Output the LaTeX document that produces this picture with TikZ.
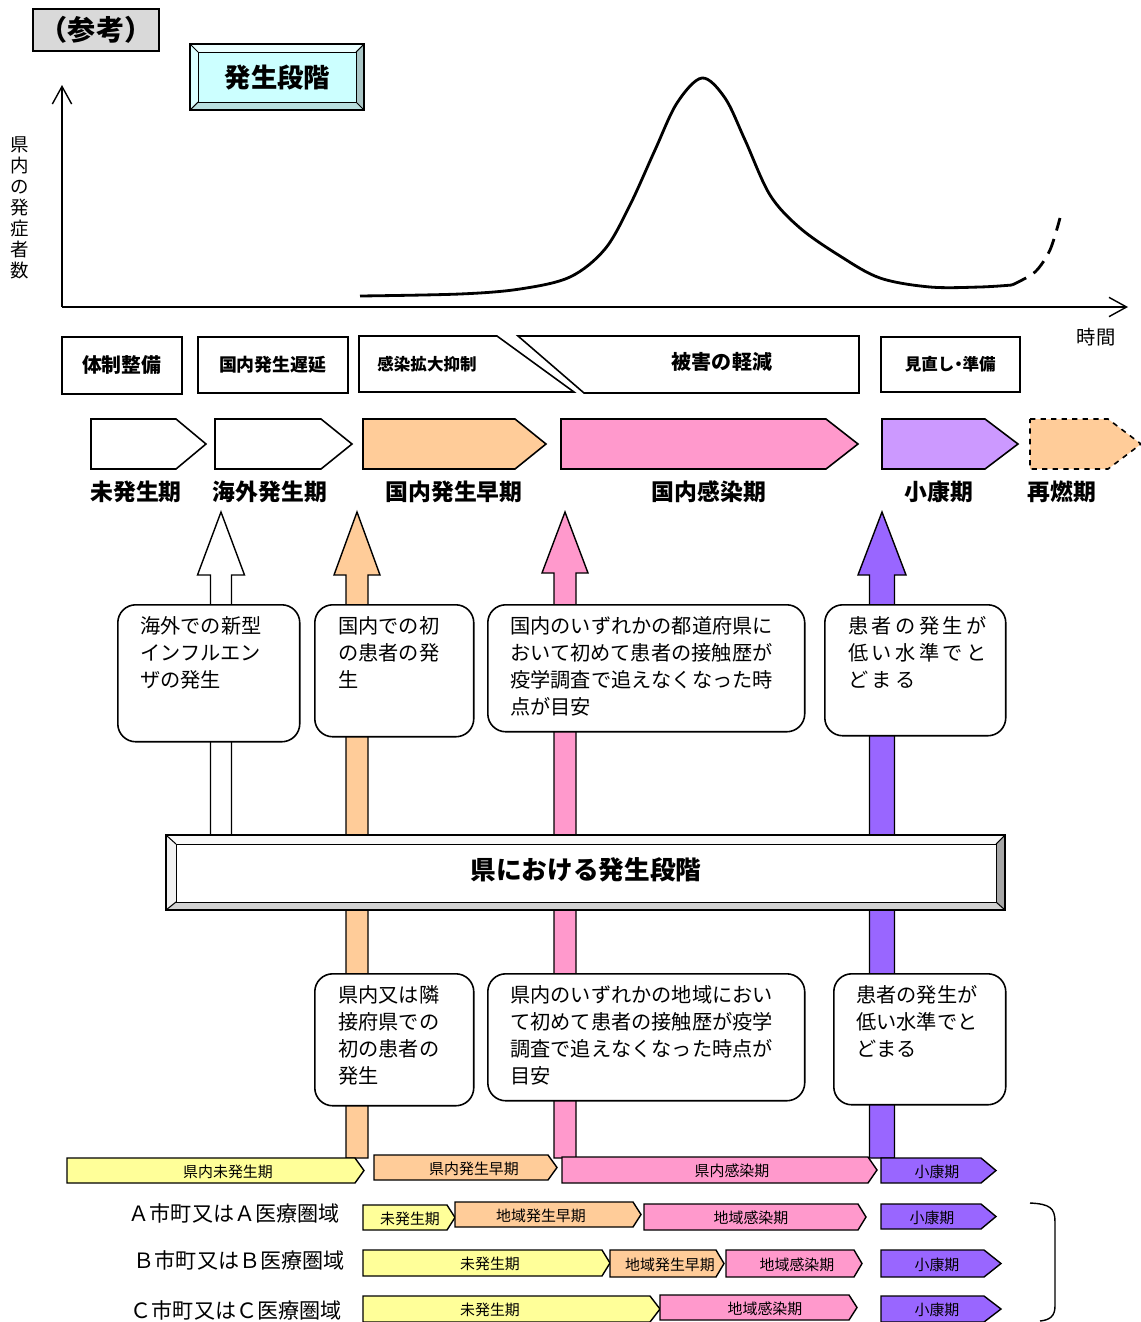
\documentclass[tikz,border=0pt]{standalone}
\usepackage{fontspec}
\setmainfont{Noto Sans CJK JP}
\usetikzlibrary{arrows.meta,positioning}
\definecolor{orng}{HTML}{FFCC99}
\definecolor{pnk}{HTML}{FF99CC}
\definecolor{lilac}{HTML}{CC99FF}
\definecolor{purp}{HTML}{9966FF}
\definecolor{ylw}{HTML}{FFFF99}
\definecolor{cyn}{HTML}{CCFFFF}
% pentagon bar: style, x1, x2, ytop, ybot, tip, name, text x, text
\newcommand{\pent}[9]{%
  \draw[#1] (#2,#4) -- ({#3-#6},#4) -- (#3,{(#4+#5)/2}) -- ({#3-#6},#5) -- (#2,#5) -- cycle;
  \node[bartext] (#7) at (#8,{(#4+#5)/2+1}) {#9};}
% block arrow: x, tip y, head base y, bottom y, shaft half width, head half width, colour
\newcommand{\uparr}[7]{%
  \draw[fill=#7, line width=0.8pt] (#1-#5,#4) -- (#1-#5,#3) -- (#1-#6,#3) -- (#1,#2)
    -- (#1+#6,#3) -- (#1+#5,#3) -- (#1+#5,#4) -- cycle;}
\begin{document}
\begin{tikzpicture}[x=0.02cm, y=-0.02cm,
  cbox/.style={draw, line width=0.9pt, rounded corners=0.36cm, fill=white, anchor=north west, inner sep=0pt},
  ctext/.style={inner sep=0pt, anchor=north west, align=left, font=\fontsize{11.5}{15.3}\selectfont},
  phase/.style={draw, line width=0.9pt, fill=white, anchor=north west, inner sep=0pt},
  lbl/.style={font=\bfseries\fontsize{13}{15}\selectfont},
  bartext/.style={font=\fontsize{8.5}{10}\selectfont, inner sep=0pt},
  bar/.style={draw, line width=0.8pt},
  rowlbl/.style={anchor=east, inner sep=0pt, font=\fontsize{12}{14}\selectfont}]
\useasboundingbox (0,0) rectangle (1141,1322);

% title boxes
\node[draw, line width=1.2pt, fill=gray!30, minimum width=2.52cm, minimum height=0.84cm,
  anchor=north west, font=\bfseries\fontsize{16}{18}\selectfont] (ref) at (32,8) {（参考）};
\fill[cyn!40] (190,44) -- (364,44) -- (356,52) -- (198,52) -- cycle;
\fill[cyn!70] (190,44) -- (198,52) -- (198,102) -- (190,110) -- cycle;
\fill[cyn!55!gray] (364,44) -- (364,110) -- (356,102) -- (356,52) -- cycle;
\fill[cyn!75!gray] (190,110) -- (364,110) -- (356,102) -- (198,102) -- cycle;
\draw[line width=0.8pt] (190,44) rectangle (364,110);
\draw[line width=0.6pt] (190,44) -- (198,52) (364,44) -- (356,52) (190,110) -- (198,102) (364,110) -- (356,102);
\node[draw, line width=0.6pt, fill=cyn, minimum width=3.16cm, minimum height=1.0cm, anchor=north west,
  font=\bfseries\fontsize{15}{17}\selectfont] (stage) at (198,52) {発生段階};

% axes
\coordinate (o) at (62,307);
\coordinate (ytop) at (62,85);
\coordinate (xend) at (1128,307);
\draw[line width=0.8pt, -{Straight Barb[length=10pt, width=11pt]}] (o) -- (ytop);
\draw[line width=0.8pt, -{Straight Barb[length=10pt, width=11pt]}] (o) -- (xend);
\node[align=center, inner sep=0pt, font=\fontsize{10.5}{11.9}\selectfont] (ylab) at (20,208)
  {県\\内\\の\\発\\症\\者\\数};
\node[font=\fontsize{11}{13}\selectfont] (xlab) at (1096,337) {時間};

% epidemic curve
\draw[line width=1.6pt] plot[smooth, tension=0.55] coordinates {(360,296) (460,294) (520,289) (570,277)
  (605,249) (630,205) (655,150) (677,103) (702,78) (725,98) (745,140) (770,195) (800,228) (840,256)
  (880,278) (930,287) (980,287) (1012,285)};
\draw[line width=1.6pt, dash pattern=on 9pt off 5pt] plot[smooth] coordinates {(1012,285) (1035,272)
  (1050,250) (1060,218)};

% measures row
\node[phase, minimum width=2.4cm, minimum height=1.14cm, font=\bfseries\fontsize{11.3}{13}\selectfont]
  (taisei) at (61,336) {体制整備};
\node[phase, minimum width=3.0cm, minimum height=1.12cm, font=\bfseries\fontsize{10.2}{12}\selectfont]
  (chien) at (197,336) {国内発生遅延};
\draw[line width=0.9pt] (359,336) -- (497,336) -- (574,392) -- (359,392) -- cycle;
\node[font=\bfseries\fontsize{9.4}{11}\selectfont] (yokusei) at (427,364) {感染拡大抑制};
\draw[line width=0.9pt] (518,336) -- (859,336) -- (859,393) -- (584,393) -- cycle;
\node[font=\bfseries\fontsize{11.4}{13}\selectfont] (keigen) at (722,362) {被害の軽減};
\node[phase, minimum width=2.78cm, minimum height=1.1cm, font=\bfseries\fontsize{9.4}{11}\selectfont]
  (minaoshi) at (880,336) {見直し\hspace{-0.25em}・\hspace{-0.25em}準備};

% phase chevrons
\pent{bar, line width=0.9pt, fill=white}{91}{206}{419}{469}{30}{c1}{140}{}
\pent{bar, line width=0.9pt, fill=white}{215}{352}{419}{469}{31}{c2}{280}{}
\pent{bar, line width=0.9pt, fill=orng}{363}{546}{419}{469}{31}{c3}{450}{}
\pent{bar, line width=0.9pt, fill=pnk}{561}{858}{419}{469}{32}{c4}{700}{}
\pent{bar, line width=0.9pt, fill=lilac}{882}{1018}{419}{469}{33}{c5}{940}{}
\pent{bar, line width=0.9pt, fill=orng, dashed}{1030}{1141}{419}{469}{33}{c6}{1080}{}
\node[lbl] (l1) at (136,492) {未発生期};
\node[lbl] (l2) at (270,492) {海外発生期};
\node[lbl] (l3) at (454,492) {国内発生早期};
\node[lbl] (l4) at (709,492) {国内感染期};
\node[lbl] (l5) at (939,492) {小康期};
\node[lbl] (l6) at (1062,492) {再燃期};

% block arrows
\uparr{221}{512}{575}{840}{10.5}{23.5}{white}
\uparr{357}{512}{575}{1158}{11}{23}{orng}
\uparr{565}{512}{573}{1158}{11}{23}{pnk}
\uparr{882}{512}{575}{1158}{12.5}{24}{purp}

% national triggers
\node[cbox, minimum width=3.64cm, minimum height=2.74cm] (b1) at (117,604) {};
\node[ctext, below right=0.25cm and 0.46cm of b1.north west] (t1) {海外での新型\\インフルエン\\ザの発生};
\node[cbox, minimum width=3.18cm, minimum height=2.64cm] (b2) at (314,604) {};
\node[ctext, below right=0.25cm and 0.48cm of b2.north west] (t2) {国内での初\\の患者の発\\生};
\node[cbox, minimum width=6.34cm, minimum height=2.54cm] (b3) at (487,604) {};
\node[ctext, below right=0.25cm and 0.46cm of b3.north west] (t3)
  {国内のいずれかの都道府県に\\おいて初めて患者の接触歴が\\疫学調査で追えなくなった時\\点が目安};
\node[cbox, minimum width=3.62cm, minimum height=2.62cm] (b4) at (824,604) {};
\node[ctext, below right=0.25cm and 0.48cm of b4.north west] (t4)
  {患\,者\,の\,発\,生\,が\\低\,い\,水\,準\,で\,と\\ど\,ま\,る};

% prefecture banner
\fill[gray!5] (166,835) -- (1005,835) -- (996,844) -- (176,844) -- cycle;
\fill[gray!10] (166,835) -- (176,844) -- (176,902) -- (166,910) -- cycle;
\fill[gray!70] (1005,835) -- (1005,910) -- (996,902) -- (996,844) -- cycle;
\fill[gray!35] (166,910) -- (1005,910) -- (996,902) -- (176,902) -- cycle;
\draw[line width=0.9pt] (166,835) rectangle (1005,910);
\draw[line width=0.6pt] (166,835) -- (176,844) (1005,835) -- (996,844) (166,910) -- (176,902) (1005,910) -- (996,902);
\node[draw, line width=0.6pt, fill=white, minimum width=16.4cm, minimum height=1.16cm, anchor=north west,
  inner sep=0pt] (banner) at (176,844) {};
\node[font=\bfseries\fontsize{14.6}{17}\selectfont] (bantext) at (586,870) {県における発生段階};

% prefecture triggers
\node[cbox, minimum width=3.18cm, minimum height=2.64cm] (b5) at (314,973) {};
\node[ctext, below right=0.25cm and 0.48cm of b5.north west] (t5) {県内又は隣\\接府県での\\初の患者の\\発生};
\node[cbox, minimum width=6.34cm, minimum height=2.54cm] (b6) at (487,973) {};
\node[ctext, below right=0.25cm and 0.46cm of b6.north west] (t6)
  {県内のいずれかの地域におい\\て初めて患者の接触歴が疫学\\調査で追えなくなった時点が\\目安};
\node[cbox, minimum width=3.44cm, minimum height=2.62cm] (b7) at (833,973) {};
\node[ctext, below right=0.25cm and 0.46cm of b7.north west] (t7) {患者の発生が\\低い水準でと\\どまる};

% prefecture bars
\pent{bar, fill=ylw}{67}{364}{1158}{1183}{9}{k1}{228}{県内未発生期}
\pent{bar, fill=orng}{374}{557}{1155}{1180}{9}{k2}{474}{県内発生早期}
\pent{bar, fill=pnk}{562}{877}{1157}{1183}{9}{k3}{732}{県内感染期}
\pent{bar, fill=purp}{881}{996}{1158}{1183}{15}{k4}{937}{小康期}

% area rows
\node[rowlbl] (ra) at (340,1213) {Ａ市町又はＡ医療圏域};
\node[rowlbl] (rb) at (345,1260) {Ｂ市町又はＢ医療圏域};
\node[rowlbl] (rc) at (342,1310) {Ｃ市町又はＣ医療圏域};
\pent{bar, fill=ylw}{363}{455}{1205}{1230}{8}{a1}{410}{未発生期}
\pent{bar, fill=orng}{455}{641}{1202}{1227}{8}{a2}{541}{地域発生早期}
\pent{bar, fill=pnk}{644}{866}{1204}{1230}{8}{a3}{751}{地域感染期}
\pent{bar, fill=purp}{881}{996}{1204}{1229}{15}{a4}{932}{小康期}
\pent{bar, fill=ylw}{363}{610}{1250}{1276}{8}{bb1}{490}{未発生期}
\pent{bar, fill=orng}{610}{724}{1250}{1277}{8}{bb2}{670}{地域発生早期}
\pent{bar, fill=pnk}{726}{862}{1250}{1277}{8}{bb3}{797}{地域感染期}
\pent{bar, fill=purp}{881}{1001}{1250}{1277}{17}{bb4}{937}{小康期}
\pent{bar, fill=ylw}{363}{660}{1296}{1322}{10}{cc1}{490}{未発生期}
\pent{bar, fill=pnk}{660}{857}{1295}{1320}{8}{cc2}{765}{地域感染期}
\pent{bar, fill=purp}{881}{1001}{1296}{1322}{17}{cc3}{937}{小康期}

% bracket
\draw[line width=0.8pt] (1030,1203) .. controls (1050,1204) and (1055,1208) .. (1055,1222)
  -- (1055,1306) .. controls (1055,1316) and (1050,1320) .. (1040,1321);
\end{tikzpicture}
\end{document}
